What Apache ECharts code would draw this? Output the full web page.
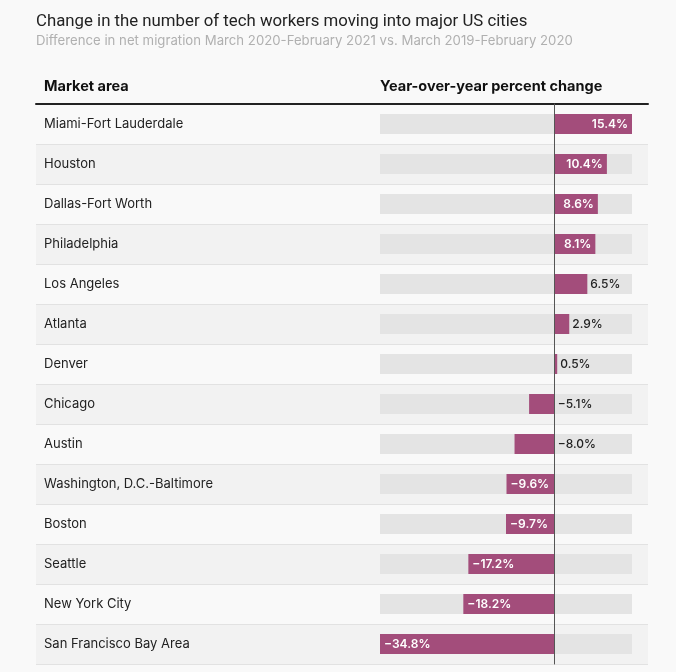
<!DOCTYPE html>
<html>
<head>
<meta charset="utf-8">
<script src="https://cdn.jsdelivr.net/npm/echarts@6/dist/echarts.min.js"></script>
<style>
  html, body { margin: 0; padding: 0; background: #f9f9f9; }
  #main { width: 676px; height: 672px; }
</style>
</head>
<body>
<div id="main"></div>
<script>
var cities = ['Miami-Fort Lauderdale', 'Houston', 'Dallas-Fort Worth', 'Philadelphia', 'Los Angeles',
    'Atlanta', 'Denver', 'Chicago', 'Austin', 'Washington, D.C.-Baltimore', 'Boston', 'Seattle',
    'New York City', 'San Francisco Bay Area'];
var changes = [15.4, 10.4, 8.6, 8.1, 6.5, 2.9, 0.5, -5.1, -8.0, -9.6, -9.7, -17.2, -18.2, -34.8];
// labels drawn inside the bar when it is wide enough
var insideMin = 8.1;

var fontFamily = 'Inter, "Noto Sans", sans-serif';
var barColor = '#a34d7b';

var fmt = function (v) {
    return (v < 0 ? '\u2212' + Math.abs(v).toFixed(1) : v.toFixed(1)) + '%';
};

var barData = changes.map(function (v) {
    var inside = Math.abs(v) >= insideMin;
    return {
        value: v,
        label: {
            show: true,
            position: inside ? (v > 0 ? 'insideRight' : 'insideLeft') : 'right',
            distance: inside ? 4 : 3,
            color: inside ? '#fff' : '#222',
            fontWeight: inside ? 600 : 500,
            fontSize: 12,
            fontFamily: fontFamily,
            formatter: function (p) { return fmt(p.value); }
        }
    };
});

var myChart = echarts.init(document.getElementById('main'));
myChart.setOption({
    backgroundColor: '#f9f9f9',
    animation: false,
    title: [{
        text: 'Change in the number of tech workers moving into major US cities',
        left: 36,
        top: 13,
        padding: 0,
        textStyle: { fontFamily: 'Roboto, sans-serif', fontSize: 16.8, fontWeight: 'normal', color: '#222' }
    }, {
        text: 'Difference in net migration March 2020-February 2021 vs. March 2019-February 2020',
        left: 36,
        top: 35,
        padding: 0,
        textStyle: { fontFamily: fontFamily, fontSize: 13.2, fontWeight: 'normal', color: '#b0b0b0' }
    }, {
        text: 'Market area',
        left: 44,
        top: 79,
        padding: 0,
        textStyle: { fontFamily: fontFamily, fontSize: 14.5, fontWeight: 'bold', color: '#111' }
    }, {
        text: 'Year-over-year percent change',
        left: 380,
        top: 79,
        padding: 0,
        textStyle: { fontFamily: fontFamily, fontSize: 14.5, fontWeight: 'bold', color: '#111' }
    }],
    grid: [
        { left: 36, right: 28, top: 104, height: 560 },
        { left: 380, right: 44, top: 104, height: 560 }
    ],
    xAxis: [{
        gridIndex: 0,
        type: 'value',
        position: 'top',
        min: 0,
        max: 1,
        axisLine: { show: true, onZero: false, lineStyle: { color: '#222', width: 2 } },
        axisTick: { show: false },
        axisLabel: { show: false },
        splitLine: { show: false }
    }, {
        gridIndex: 1,
        type: 'value',
        min: -34.8,
        max: 15.4,
        show: false
    }],
    yAxis: [{
        gridIndex: 0,
        type: 'category',
        inverse: true,
        data: cities,
        axisLine: { show: false },
        axisTick: { show: false },
        axisLabel: {
            inside: true,
            margin: 8,
            color: '#222',
            fontFamily: fontFamily,
            fontSize: 13
        },
        splitLine: { show: true, lineStyle: { color: '#e2e2e2', width: 1 } },
        splitArea: { show: true, areaStyle: { color: ['#f9f9f9', '#f2f2f2'] } }
    }, {
        gridIndex: 1,
        type: 'category',
        inverse: true,
        data: cities,
        axisLine: { show: true, onZero: true, lineStyle: { color: '#555', width: 1 } },
        axisTick: { show: false },
        axisLabel: { show: false },
        z: 5
    }],
    series: [{
        type: 'bar',
        xAxisIndex: 1,
        yAxisIndex: 1,
        barWidth: 20,
        data: barData,
        itemStyle: { color: barColor },
        showBackground: true,
        backgroundStyle: { color: '#e4e4e4' }
    }]
});
</script>
</body>
</html>
